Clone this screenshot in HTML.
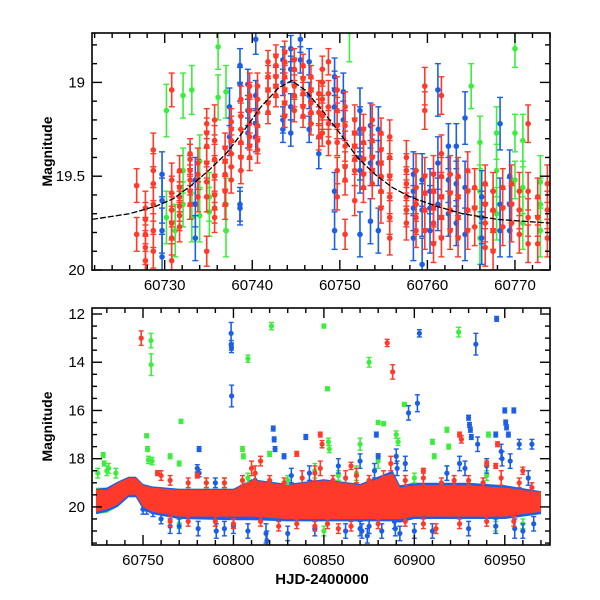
<!DOCTYPE html>
<html><head><meta charset="utf-8"><style>
html,body{margin:0;padding:0;background:#fff;}
svg{display:block;font-family:"Liberation Sans",sans-serif;}
</style></head><body>
<svg id="chart" width="600" height="600" viewBox="0 0 600 600">
<rect width="600" height="600" fill="#fff"/>
</svg>
<script>
// ---------- TOP PANEL DATA (zoom on peak) ----------
const topXTicks = [60730, 60740, 60750, 60760, 60770];
const topYTicks = [19, 19.5, 20];
const topYTickLabels = ["19", "19.5", "20"];
const modelDay = [60721.7,60726,60729,60731,60733,60735,60737,60739,60741,60743,60744.5,60746,60748,60750,60752,60754,60756,60758,60761,60764,60768,60774];
const modelMag = [19.73,19.70,19.66,19.62,19.55,19.47,19.38,19.26,19.13,19.03,18.99,19.04,19.15,19.27,19.40,19.49,19.56,19.61,19.66,19.70,19.73,19.75];

const redDay = [60726.8,60727.8,60728.7,60730.8,60731.7,60732.9,60733.8,60734.8,60735.7,60736.9,60737.6,60738.7,60739.7,60740.6,60741.8,60742.7,60743.7,60744.8,60745.8,60746.7,60747.6,60748.0,60748.7,60749.7,60750.6,60751.7,60752.7,60753.7,60754.7,60755.7,60757.6,60758.7,60759.7,60760.7,60761.6,60762.6,60763.5,60764.6,60765.4,60766.6,60767.5,60768.6,60769.6,60770.5,60771.5,60772.6,60773.7];
const redMag = [[19.55,19.81],[19.67,19.73,19.81,19.88,19.95],[19.36,19.47,19.54,19.65,19.79,19.9],[19.04,19.52,19.59,19.68,19.75,19.83,19.95],[19.47,19.56,19.61,19.66,19.71,19.77],[19.38,19.41,19.47,19.52,19.58,19.65],[19.43,19.49,19.61],[19.22,19.27,19.34,19.43,19.53,19.61,19.9],[19.2,19.31,19.41,19.5,19.6,19.67,19.72],[19.35,19.42,19.49,19.58,19.65],[19.21,19.25,19.31,19.38,19.45,19.52],[19.09,19.18,19.25,19.32,19.40,19.47],[19.02,19.07,19.15,19.22,19.29,19.34,19.40],[19.02,19.09,19.16,19.23,19.31,19.36],[18.89,18.97,19.04,19.11,19.16],[18.86,18.91,18.97,19.02,19.07],[18.84,18.89,18.97,19.04,19.11,19.18],[18.88,18.93,19.02,19.07,19.15],[18.91,18.98,19.06,19.13,19.18],[18.97,19.04,19.11,19.16,19.22],[19.06,19.16,19.29],[18.93,19.0,19.09,19.18,19.27],[18.89,19.06,19.13,19.22,19.32],[19.04,19.15,19.23,19.32,19.47,19.61],[19.13,19.23,19.34,19.45,19.52,19.81],[19.2,19.27,19.34,19.41,19.47,19.63],[19.25,19.32,19.41,19.49,19.56],[19.2,19.31,19.40,19.47,19.54],[19.27,19.36,19.43,19.50,19.58,19.67],[19.29,19.40,19.50,19.61,19.72,19.83],[19.40,19.47,19.54,19.61,19.68,19.75],[19.47,19.56,19.65,19.72,19.79],[19.02,19.15,19.50,19.59,19.68,19.79],[19.49,19.58,19.67,19.75,19.86],[19.07,19.38,19.50,19.61,19.72,19.83],[19.49,19.59,19.68,19.79],[19.50,19.61,19.72,19.83],[19.47,19.58,19.68,19.79],[19.56,19.67,19.77],[19.54,19.65,19.75,19.88],[19.58,19.68,19.79,19.90],[19.56,19.67,19.77],[19.54,19.65,19.75],[19.58,19.68,19.81],[19.22,19.58,19.72,19.86],[19.61,19.72,19.86],[19.54,19.68,19.83]];
const redErr = [0.09,0.09,0.09,0.09,0.08,0.08,0.08,0.08,0.08,0.08,0.07,0.07,0.07,0.07,0.06,0.06,0.06,0.06,0.06,0.06,0.07,0.07,0.07,0.07,0.08,0.08,0.08,0.08,0.08,0.09,0.09,0.09,0.1,0.1,0.1,0.1,0.1,0.1,0.1,0.1,0.1,0.1,0.1,0.1,0.1,0.1,0.1];

const blueDay = [60729.7,60733.5,60737.4,60738.6,60739.5,60740.4,60743.5,60744.4,60745.5,60746.5,60747.6,60749.4,60750.4,60752.3,60753.5,60754.4,60758.4,60759.4,60760.3,60761.2,60762.4,60763.3,60764.3,60766.2,60768.3,60769.4];
const blueMag = [[19.49,19.63,19.79,19.93],[19.52,19.65,19.83],[19.13,19.29],[18.91,19.01,19.65,19.67],[19.01,19.15,19.27],[18.77,19.07,19.22,19.29],[18.88,19.0,19.2,19.25],[18.82,18.93,19.13,19.27],[18.77,18.88],[18.89,19.07,19.25],[19.38],[18.97,19.04,19.13,19.58,19.79],[19.05,19.2],[19.15,19.25,19.40,19.47,19.81],[19.23,19.43,19.74],[19.25,19.43,19.79],[19.49,19.58,19.67,19.83],[19.52,19.68,19.97],[19.58,19.67,19.79],[19.04,19.43,19.65],[19.34,19.52,19.7],[19.34,19.54,19.75],[19.19,19.56,19.81],[19.61,19.72,19.83],[19.22,19.65,19.79],[19.50,19.65,19.79]];
const blueErr = [0.12,0.12,0.1,0.09,0.08,0.08,0.07,0.07,0.07,0.07,0.08,0.1,0.1,0.12,0.12,0.12,0.12,0.14,0.12,0.14,0.12,0.12,0.14,0.14,0.14,0.14];

const greenDay = [60730.2,60731.2,60732.1,60733.1,60734.0,60735.1,60736.1,60737.0,60751.1,60765.0,60766.0,60767.9,60770.0,60770.9,60772.9];
const greenMag = [[19.15,19.72],[19.79],[19.07,19.47,19.65],[19.04,19.72],[19.42,19.71],[19.61,19.69],[18.81,19.08],[19.05,19.65,19.79],[18.73],[19.02],[19.32,19.58,19.83],[19.27,19.47,19.7],[18.82,19.27,19.52],[19.31,19.56,19.75],[19.53,19.65,19.79]];
const greenErr = [0.14,0.14,0.12,0.13,0.14,0.13,0.12,0.14,0.16,0.12,0.14,0.14,0.1,0.14,0.14];

// ---------- BOTTOM PANEL DATA (full season) ----------
const botXTicks = [60750, 60800, 60850, 60900, 60950];
const botYTicks = [12, 14, 16, 18, 20];
const bandDay = [60724,60730,60736,60742,60746,60750,60755,60770,60800,60810,60830,60840,60850,60870,60888,60892,60900,60930,60950,60970];
const redBright = [19.3,19.3,19.0,18.8,18.8,19.1,19.2,19.3,19.3,18.9,19.1,19.0,18.9,19.1,18.6,19.2,19.1,19.1,19.2,19.4];
const redFaint  = [20.2,20.1,19.9,19.5,19.5,20.0,20.2,20.4,20.4,20.4,20.5,20.5,20.5,20.5,20.5,20.5,20.4,20.4,20.4,20.2];
const blueBright = [19.25,19.2,18.95,18.75,18.75,19.05,19.15,19.25,19.25,18.85,19.05,18.95,18.85,19.05,18.5,19.1,19.0,19.0,19.1,19.35];
const blueFaint  = [20.3,20.2,20.0,19.6,19.6,20.1,20.3,20.5,20.55,20.55,20.6,20.6,20.6,20.6,20.6,20.65,20.5,20.5,20.5,20.3];
const greenBright = [19.2,19.2,18.95,18.75,18.75,19.05,19.15,19.25,19.25,18.85,19.05,18.95,18.85,19.05,18.55,19.15,19.05,19.05,19.1,19.35];
const greenFaint  = [20.3,20.25,20.0,19.6,19.6,20.1,20.3,20.5,20.5,20.5,20.55,20.55,20.55,20.55,20.55,20.6,20.45,20.45,20.5,20.3];

const redEdgeDay = [60760,60765,60775,60785,60795,60805,60810,60812,60820,60828,60838,60845,60848,60855,60862,60868,60875,60883,60887,60895,60905,60915,60922,60930,60938,60948,60958,60965,60765,60775,60790,60800,60815,60825,60835,60845,60852,60858,60865,60880,60895,60905,60912,60925,60940,60955];
const redEdgeMag = [18.7,18.9,19.0,19.0,19.0,18.9,18.4,18.6,18.9,19.0,18.8,18.6,18.4,18.9,18.8,18.7,18.9,18.8,18.2,18.9,18.8,19.0,18.9,18.9,19.0,18.8,19.0,19.2,20.6,20.6,20.6,20.7,20.6,20.8,20.7,20.8,20.7,20.9,20.8,20.7,20.6,20.7,20.9,20.7,20.6,20.6];
const redEdgeErr = [0.2,0.2,0.2,0.2,0.2,0.2,0.3,0.3,0.2,0.2,0.3,0.3,0.3,0.2,0.3,0.3,0.2,0.3,0.3,0.2,0.3,0.2,0.2,0.2,0.2,0.3,0.2,0.2,0.2,0.2,0.2,0.2,0.2,0.2,0.2,0.2,0.2,0.2,0.2,0.2,0.2,0.2,0.2,0.2,0.2,0.2];

const blueEdgeDay = [60780,60781,60790,60812,60832,60842,60858,60870,60878,60890,60890.5,60895,60918,60925,60928,60940,60948,60948.5,60953,60963,60752,60765,60780.5,60790.5,60808,60830,60845,60862,60874,60882,60892,60910,60930,60945,60960];
const blueEdgeMag = [18.4,18.6,19.0,18.9,18.7,18.6,18.3,18.1,18.5,17.9,18.4,18.2,18.6,18.2,18.4,18.3,17.7,18.0,18.1,18.8,20.1,20.8,20.9,21.0,21.0,21.1,20.9,21.0,21.2,21.0,21.1,21.0,20.9,20.8,21.0];
const blueEdgeErr = [0.15,0.15,0.2,0.3,0.3,0.3,0.3,0.3,0.3,0.3,0.3,0.3,0.3,0.3,0.3,0.3,0.3,0.3,0.3,0.3,0.2,0.3,0.3,0.3,0.3,0.3,0.3,0.3,0.3,0.3,0.3,0.3,0.3,0.3,0.3];

const greenEdgeDay = [60725,60730,60731,60735,60785,60795,60808,60830,60845,60858,60868,60880,60900,60918,60940,60945,60960,60770,60850];
const greenEdgeMag = [18.6,18.5,18.4,18.6,19.0,19.0,18.8,18.9,18.5,18.7,18.6,18.1,18.8,18.6,18.7,20.8,20.7,20.7,21.0];
const greenEdgeErr = [0.2,0.2,0.2,0.2,0.2,0.2,0.2,0.2,0.3,0.2,0.3,0.3,0.2,0.3,0.2,0.2,0.2,0.2,0.2];

const redOutDay = [60749,60885,60888,60848,60849,60835,60815,60925,60926,60945,60946,60960,60905,60758,60780,60865,60940];
const redOutMag = [13.0,13.2,14.4,17.0,17.4,17.8,18.1,17.0,17.2,18.3,17.4,18.5,18.5,18.6,18.7,18.3,18.2];
const redOutErr = [0.3,0.15,0.3,0.1,0.15,0.1,0.2,0.1,0.15,0.1,0.1,0.15,0.1,0.1,0.1,0.15,0.1];

const greenOutDay = [60754.4,60754.5,60808,60821,60850,60852,60875,60894.5,60924.5,60771,60728,60728.5,60752,60752.5,60753,60755,60765,60770,60805,60805.5,60820,60852.5,60853,60870,60880,60883,60890,60891,60910,60911,60918,60919,60941];
const greenOutMag = [13.1,14.1,13.85,12.5,12.5,15.1,14.0,15.75,12.75,16.45,17.85,18.2,17.05,17.6,18.05,18.1,17.9,18.2,17.6,17.9,17.8,17.3,17.6,17.4,16.5,16.55,17.0,17.3,17.3,17.9,16.8,17.5,17.0];
const greenOutErr = [0.3,0.45,0.15,0.15,0.08,0.08,0.2,0.08,0.2,0.08,0.1,0.1,0.08,0.1,0.15,0.15,0.1,0.1,0.1,0.1,0.1,0.15,0.15,0.25,0.08,0.08,0.15,0.15,0.1,0.1,0.1,0.1,0.1];

const blueOutDay = [60798.7,60798.8,60798.9,60799,60902.8,60901.7,60896.8,60934,60945.5,60840,60822,60822.5,60823,60781,60828,60930,60930.5,60931,60931.5,60950,60950.5,60951,60952,60955,60958,60879,60880,60935,60965,60945,60760,60770,60795,60800,60818,60818.5,60870,60871,60875,60889,60889.5,60900,60955.5,60966,60750,60755.5];
const blueOutMag = [12.8,13.3,13.4,15.4,12.8,15.7,16.1,13.25,12.2,17.1,16.75,17.2,17.6,17.6,17.9,16.3,16.6,16.8,17.1,16.0,16.5,16.7,17.0,16.0,17.4,17.0,17.9,17.4,17.4,17.0,20.5,20.8,20.9,20.8,21.1,21.4,20.9,21.0,20.8,20.6,20.9,21.0,20.9,20.7,20.1,20.2];
const blueOutErr = [0.45,0.2,0.2,0.45,0.15,0.35,0.3,0.45,0.1,0.1,0.1,0.1,0.1,0.1,0.1,0.1,0.1,0.1,0.1,0.1,0.1,0.1,0.1,0.1,0.2,0.1,0.1,0.3,0.2,0.1,0.2,0.3,0.3,0.3,0.4,0.4,0.3,0.3,0.3,0.3,0.3,0.3,0.4,0.3,0.2,0.2];

// ---------- drawing ----------
const NS = "http://www.w3.org/2000/svg";
const svg = document.getElementById("chart");
const COL = {red:"#ff3a2a", green:"#3cee3c", blue:"#1c5fe6"};

function mk(tag, attrs, parent){
  const e = document.createElementNS(NS, tag);
  for (const k in attrs) e.setAttribute(k, attrs[k]);
  (parent||svg).appendChild(e);
  return e;
}

const P1 = {l:92, r:550, t:33, b:270, d0:60721.7, d1:60774.0, m0:18.7366, m1:20.0};
const P2 = {l:92, r:550, t:308, b:545, d0:60721.8, d1:60975.0, m0:11.75, m1:21.58};
function xs(p, d){ return p.l + (d - p.d0) / (p.d1 - p.d0) * (p.r - p.l); }
function ys(p, m){ return p.t + (m - p.m0) / (p.m1 - p.m0) * (p.b - p.t); }

function clipFor(p, id){
  const defs = mk("defs", {});
  const cp = mk("clipPath", {id:id}, defs);
  mk("rect", {x:p.l, y:p.t, width:p.r-p.l, height:p.b-p.t}, cp);
}
clipFor(P1, "c1"); clipFor(P2, "c2");

function errPoint(g, p, d, m, e, color, r, cap){
  const x = xs(p, d), y1 = ys(p, m - e), y2 = ys(p, m + e), y = ys(p, m);
  const grp = mk("g", {}, g);
  
  
  mk("line", {x1:x, x2:x, y1:y1, y2:y2, stroke:color, "stroke-width":1.6}, grp);
  mk("line", {x1:x-cap, x2:x+cap, y1:y1, y2:y1, stroke:color, "stroke-width":1.4}, grp);
  mk("line", {x1:x-cap, x2:x+cap, y1:y2, y2:y2, stroke:color, "stroke-width":1.4}, grp);
  mk("circle", {cx:x, cy:y, r:r, fill:color}, grp);
}

function drawTopSeries(days, mags, errs, color, name){
  const g = mk("g", {"clip-path":"url(#c1)"});
  
  
  days.forEach((d, i) => mags[i].forEach(m => errPoint(g, P1, d, m, errs[i], color, 2.8, 3)));
}
drawTopSeries(greenDay, greenMag, greenErr, COL.green, "green-series-top");
drawTopSeries(blueDay, blueMag, blueErr, COL.blue, "blue-series-top");
drawTopSeries(redDay, redMag, redErr, COL.red, "red-series-top");

(function(){
  let dstr = "";
  modelDay.forEach((d, i) => { dstr += (i ? "L" : "M") + xs(P1, d).toFixed(1) + "," + ys(P1, modelMag[i]).toFixed(1); });
  const c = mk("path", {d:dstr, fill:"none", stroke:"#000", "stroke-width":1.3, "stroke-dasharray":"6,2", "clip-path":"url(#c1)"});
  
  
})();

function band(bright, faint, color, name){
  let dstr = "";
  bandDay.forEach((d, i) => { dstr += (i ? "L" : "M") + xs(P2, d).toFixed(1) + "," + ys(P2, bright[i]).toFixed(1); });
  for (let i = bandDay.length - 1; i >= 0; i--) dstr += "L" + xs(P2, bandDay[i]).toFixed(1) + "," + ys(P2, faint[i]).toFixed(1);
  const b = mk("path", {d:dstr + "Z", fill:color, "clip-path":"url(#c2)"});
  
  
}
function outliers(days, mags, errs, color, name){
  const g = mk("g", {"clip-path":"url(#c2)"});
  
  
  days.forEach((d, i) => errPoint(g, P2, d, mags[i], errs[i], color, 2.6, 2.5));
}
band(greenBright, greenFaint, COL.green, "green-band-bottom");
band(blueBright, blueFaint, COL.blue, "blue-band-bottom");
outliers(greenEdgeDay, greenEdgeMag, greenEdgeErr, COL.green, "green-band-edge");
outliers(blueEdgeDay, blueEdgeMag, blueEdgeErr, COL.blue, "blue-band-edge");
outliers(greenOutDay, greenOutMag, greenOutErr, COL.green, "green-outliers");
outliers(blueOutDay, blueOutMag, blueOutErr, COL.blue, "blue-outliers");
band(redBright, redFaint, COL.red, "red-band-bottom");
outliers(redEdgeDay, redEdgeMag, redEdgeErr, COL.red, "red-band-edge");
outliers(redOutDay, redOutMag, redOutErr, COL.red, "red-outliers");

function axes(p, xMaj, xMin, yMaj, yMin, xLabels, yLabels, prefix){
  const g = mk("g", {});
  
  
  mk("rect", {x:p.l, y:p.t, width:p.r-p.l, height:p.b-p.t, fill:"none", stroke:"#000", "stroke-width":1.6}, g);
  const tk = (x1,y1,x2,y2) => mk("line", {x1:x1,y1:y1,x2:x2,y2:y2,stroke:"#000","stroke-width":1.4}, g);
  for (let d = Math.ceil(p.d0 / xMin) * xMin; d <= p.d1; d += xMin) {
    const x = xs(p, d);
    const L = (Math.abs(d / xMaj - Math.round(d / xMaj)) < 1e-6) ? 10 : 5;
    tk(x, p.b, x, p.b - L); tk(x, p.t, x, p.t + L);
  }
  for (let k = Math.ceil(p.m0 / yMin - 1e-6); k * yMin <= p.m1 + 1e-6; k++) {
    const m = k * yMin, y = ys(p, m);
    const L = (Math.abs(m / yMaj - Math.round(m / yMaj)) < 1e-6) ? 10 : 5;
    tk(p.l, y, p.l + L, y); tk(p.r, y, p.r - L, y);
  }
  xLabels.forEach(d => {
    const t = mk("text", {x:xs(p, d), y:p.b + 20, "text-anchor":"middle", "font-size":15}, g);
    t.textContent = d;
    
    
  });
  yLabels.forEach((m, i) => {
    const t = mk("text", {x:p.l - 7, y:ys(p, m) + 5, "text-anchor":"end", "font-size":15}, g);
    t.textContent = (prefix === "top") ? topYTickLabels[i] : m;
    
    
  });
  const yt = mk("text", {x:0, y:0, "text-anchor":"middle", "font-size":14, "font-weight":"bold",
    transform:"translate(52," + ((p.t + p.b) / 2) + ") rotate(-90)"}, g);
  yt.textContent = "Magnitude";
  
  
}
axes(P1, 10, 2, 0.5, 0.1, topXTicks, topYTicks, "top");
axes(P2, 50, 10, 2, 0.5, botXTicks, botYTicks, "bottom");
const xt = mk("text", {x:322, y:584, "text-anchor":"middle", "font-size":15, "font-weight":"bold"});
xt.textContent = "HJD-2400000";


</script>
</body></html>
